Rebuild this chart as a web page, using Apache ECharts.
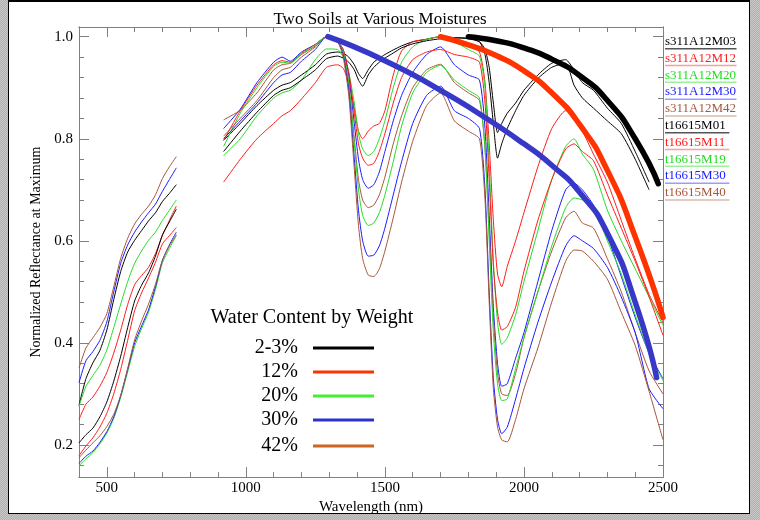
<!DOCTYPE html>
<html>
<head>
<meta charset="utf-8">
<script src="https://cdn.jsdelivr.net/npm/echarts@6/dist/echarts.min.js"></script>
<style>
html, body { margin: 0; padding: 0; }
body {
  width: 760px; height: 520px; position: relative; overflow: hidden;
  background-color: #bcbcbc;
  background-image: repeating-conic-gradient(#b0b0b0 0 25%, #c8c8c8 0 50%);
  background-size: 2px 2px;
}
.frame { position: absolute; left: 8px; top: 0; width: 740px; height: 511px; background: #fff; border: 1px solid #000; border-top-width: 2px; }
#chart { position: absolute; left: 0; top: 0; width: 760px; height: 520px; }
</style>
</head>
<body>
<div class="frame"></div>
<div id="chart"></div>
<script>
// wavelengths (nm)
const VIS_WL = [400, 425, 450, 475, 500, 525, 550, 575, 600, 625, 650, 675, 700, 725, 750]
const NIR_WL = [920, 980, 1040, 1100, 1130, 1160, 1200, 1250, 1290, 1330, 1350, 1370, 1390, 1405, 1420, 1440, 1460, 1480, 1500, 1530,
  1560, 1600, 1650, 1700, 1750, 1800, 1840, 1860, 1875, 1890, 1905, 1920, 1940, 1970, 2000, 2050, 2100, 2150, 2180, 2210,
  2250, 2300, 2350, 2400, 2450, 2500]

// visible segment
const s311A12M03_vis = [0.278, 0.33, 0.361, 0.385, 0.425, 0.485, 0.54, 0.578, 0.601, 0.62, 0.639, 0.655, 0.677, 0.693, 0.71]
const s311A12M12_vis = [0.25, 0.28, 0.294, 0.315, 0.342, 0.38, 0.425, 0.475, 0.514, 0.532, 0.548, 0.575, 0.61, 0.64, 0.668]
const s311A12M20_vis = [0.276, 0.315, 0.336, 0.356, 0.386, 0.43, 0.476, 0.52, 0.556, 0.58, 0.601, 0.617, 0.64, 0.66, 0.68]
const s311A12M30_vis = [0.322, 0.365, 0.383, 0.405, 0.441, 0.5, 0.556, 0.592, 0.617, 0.637, 0.655, 0.672, 0.697, 0.72, 0.743]
const s311A12M42_vis = [0.351, 0.39, 0.41, 0.43, 0.457, 0.51, 0.566, 0.605, 0.633, 0.652, 0.668, 0.69, 0.722, 0.745, 0.765]
const t16615M01_vis = [0.204, 0.22, 0.233, 0.255, 0.284, 0.325, 0.374, 0.43, 0.482, 0.513, 0.537, 0.57, 0.612, 0.637, 0.662]
const t16615M11_vis = [0.179, 0.198, 0.214, 0.235, 0.262, 0.3, 0.348, 0.405, 0.463, 0.498, 0.527, 0.558, 0.594, 0.61, 0.626]
const t16615M19_vis = [0.159, 0.173, 0.185, 0.202, 0.223, 0.252, 0.293, 0.343, 0.393, 0.428, 0.46, 0.505, 0.557, 0.585, 0.61]
const t16615M30_vis = [0.164, 0.178, 0.188, 0.205, 0.226, 0.255, 0.297, 0.348, 0.4, 0.433, 0.465, 0.51, 0.562, 0.592, 0.617]
const t16615M40_vis = [0.175, 0.19, 0.204, 0.218, 0.236, 0.26, 0.297, 0.35, 0.406, 0.443, 0.476, 0.515, 0.562, 0.59, 0.612]

// near / short-wave infrared segment
const s311A12M03_nir = [0.797, 0.83, 0.865, 0.895, 0.905, 0.91, 0.925, 0.945, 0.966, 0.97, 0.968, 0.96, 0.945, 0.928, 0.918, 0.935, 0.95, 0.958, 0.965, 0.974,
  0.982, 0.99, 0.995, 1.0, 0.998, 0.996, 0.99, 0.975, 0.94, 0.87, 0.812, 0.83, 0.85, 0.87, 0.895, 0.925, 0.948, 0.955, 0.935, 0.91,
  0.895, 0.86, 0.83, 0.775, 0.715, null]
const s311A12M12_nir = [0.715, 0.76, 0.8, 0.83, 0.845, 0.855, 0.878, 0.91, 0.94, 0.945, 0.938, 0.91, 0.86, 0.815, 0.8, 0.815, 0.825, 0.83, 0.855, 0.925,
  0.972, 0.99, 0.995, 1.0, 0.993, 0.985, 0.97, 0.91, 0.79, 0.64, 0.535, 0.51, 0.55, 0.6, 0.655, 0.745, 0.82, 0.855, 0.84, 0.815,
  0.77, 0.715, 0.64, 0.565, 0.495, 0.44]
const s311A12M20_nir = [0.767, 0.8, 0.845, 0.88, 0.89, 0.895, 0.915, 0.955, 0.976, 0.975, 0.96, 0.93, 0.87, 0.81, 0.78, 0.767, 0.775, 0.8, 0.835, 0.9,
  0.95, 0.98, 0.995, 1.0, 0.99, 0.975, 0.962, 0.9, 0.75, 0.56, 0.44, 0.397, 0.41, 0.455, 0.52, 0.62, 0.72, 0.785, 0.8, 0.77,
  0.74, 0.66, 0.6, 0.545, 0.49, 0.434]
const s311A12M30_nir = [0.82, 0.858, 0.91, 0.95, 0.96, 0.952, 0.97, 0.985, 1.0, 0.99, 0.975, 0.925, 0.83, 0.76, 0.72, 0.703, 0.71, 0.735, 0.775, 0.835,
  0.885, 0.93, 0.965, 0.98, 0.945, 0.925, 0.915, 0.82, 0.65, 0.47, 0.36, 0.315, 0.32, 0.37, 0.42, 0.52, 0.62, 0.7, 0.713, 0.7,
  0.67, 0.61, 0.53, 0.45, 0.38, 0.33]
const s311A12M42_nir = [0.837, 0.856, 0.89, 0.935, 0.945, 0.948, 0.965, 0.982, 1.0, 0.99, 0.97, 0.91, 0.8, 0.72, 0.68, 0.665, 0.67, 0.69, 0.725, 0.79,
  0.845, 0.9, 0.935, 0.946, 0.91, 0.89, 0.875, 0.78, 0.62, 0.45, 0.34, 0.3, 0.297, 0.34, 0.41, 0.5, 0.58, 0.645, 0.658, 0.635,
  0.625, 0.565, 0.5, 0.42, 0.345, 0.3]
const t16615M01_nir = [0.775, 0.815, 0.852, 0.885, 0.895, 0.9, 0.915, 0.935, 0.957, 0.962, 0.958, 0.95, 0.935, 0.915, 0.903, 0.925, 0.94, 0.95, 0.958, 0.968,
  0.978, 0.986, 0.992, 0.996, 0.998, 0.997, 0.99, 0.965, 0.91, 0.83, 0.762, 0.79, 0.82, 0.855, 0.885, 0.918, 0.94, 0.948, 0.905, 0.88,
  0.86, 0.835, 0.81, 0.76, 0.7, null]
const t16615M11_nir = [0.797, 0.855, 0.905, 0.945, 0.953, 0.95, 0.968, 0.985, 1.0, 0.99, 0.975, 0.93, 0.85, 0.79, 0.762, 0.748, 0.752, 0.775, 0.81, 0.87,
  0.92, 0.955, 0.97, 0.975, 0.965, 0.96, 0.95, 0.87, 0.72, 0.55, 0.46, 0.425, 0.432, 0.47, 0.54, 0.64, 0.72, 0.78, 0.79, 0.775,
  0.757, 0.69, 0.625, 0.56, 0.49, 0.415]
const t16615M19_nir = [0.785, 0.85, 0.9, 0.942, 0.95, 0.948, 0.966, 0.984, 1.0, 0.99, 0.97, 0.905, 0.79, 0.7, 0.65, 0.63, 0.635, 0.655, 0.69, 0.755,
  0.825, 0.89, 0.93, 0.944, 0.915, 0.895, 0.88, 0.78, 0.6, 0.42, 0.32, 0.287, 0.29, 0.35, 0.41, 0.5, 0.59, 0.665, 0.684, 0.68,
  0.665, 0.6, 0.535, 0.455, 0.38, 0.326]
const t16615M30_nir = [0.8, 0.835, 0.87, 0.91, 0.925, 0.93, 0.952, 0.975, 1.0, 0.99, 0.965, 0.895, 0.76, 0.66, 0.6, 0.57, 0.572, 0.59, 0.625, 0.69,
  0.755, 0.83, 0.885, 0.903, 0.855, 0.84, 0.82, 0.7, 0.5, 0.33, 0.25, 0.222, 0.235, 0.29, 0.35, 0.44, 0.52, 0.59, 0.61, 0.6,
  0.585, 0.548, 0.49, 0.42, 0.31, 0.271]
const t16615M40_nir = [0.805, 0.84, 0.875, 0.92, 0.935, 0.94, 0.96, 0.98, 1.0, 0.99, 0.96, 0.885, 0.74, 0.63, 0.565, 0.533, 0.53, 0.545, 0.58, 0.645,
  0.715, 0.795, 0.865, 0.89, 0.835, 0.815, 0.8, 0.68, 0.48, 0.31, 0.235, 0.21, 0.206, 0.25, 0.31, 0.39, 0.48, 0.56, 0.582, 0.58,
  0.56, 0.525, 0.46, 0.395, 0.305, 0.21]

// continuum lines
const hull03_wl = [1800, 1900, 2000, 2100, 2200, 2300, 2400, 2483]
const hull03 = [1.0, 0.992, 0.978, 0.956, 0.924, 0.875, 0.8, 0.712]
const hull12_wl = [1700, 1800, 1900, 2000, 2100, 2200, 2300, 2400, 2500]
const hull12 = [1.0, 0.984, 0.963, 0.933, 0.89, 0.828, 0.738, 0.608, 0.45]
const hull30_wl = [1295, 1500, 1700, 1850, 2000, 2100, 2200, 2300, 2400, 2477]
const hull30 = [1.0, 0.953, 0.895, 0.845, 0.79, 0.748, 0.695, 0.615, 0.48, 0.332]

// ticks
const xMajor = [500, 1000, 1500, 2000, 2500]
const xMinor = [600, 700, 800, 900, 1100, 1200, 1300, 1400, 1600, 1700, 1800, 1900, 2100, 2200, 2300, 2400]
const yMajor = [0.2, 0.4, 0.6, 0.8, 1.0]
const yMinor = [0.16, 0.24, 0.28, 0.32, 0.36, 0.44, 0.48, 0.52, 0.56, 0.64, 0.68, 0.72, 0.76, 0.84, 0.88, 0.92, 0.96]

const moistLabels = ['2-3%', '12%', '20%', '30%', '42%']

const FONT = "'Liberation Serif', 'Times New Roman', serif"
const AX = '#808080'
const COL = { k: '#000000', r: '#ff1a1a', g: '#22dd22', b: '#1a1aff', n: '#a8553a' }
const UNDER = { k: '#555555', r: '#ff9c9c', g: '#9cf09c', b: '#9c9cff', n: '#dcb9a8' }
const LEG_COL = ['#000000', '#ff3300', '#44ee33', '#2a33cc', '#cc6622']

const spectra = [
  ['s311A12M03', 'k', s311A12M03_vis, s311A12M03_nir],
  ['s311A12M12', 'r', s311A12M12_vis, s311A12M12_nir],
  ['s311A12M20', 'g', s311A12M20_vis, s311A12M20_nir],
  ['s311A12M30', 'b', s311A12M30_vis, s311A12M30_nir],
  ['s311A12M42', 'n', s311A12M42_vis, s311A12M42_nir],
  ['t16615M01', 'k', t16615M01_vis, t16615M01_nir],
  ['t16615M11', 'r', t16615M11_vis, t16615M11_nir],
  ['t16615M19', 'g', t16615M19_vis, t16615M19_nir],
  ['t16615M30', 'b', t16615M30_vis, t16615M30_nir],
  ['t16615M40', 'n', t16615M40_vis, t16615M40_nir]
]

function pairs (wl, vals) {
  return wl.map((w, i) => [w, vals[i] == null ? '-' : vals[i]])
}

function xAxis (pos, ticks, len, labels, name) {
  return {
    type: 'value', position: pos, min: 400, max: 2500,
    name: name || '', nameLocation: 'middle', nameGap: 14,
    nameTextStyle: { fontFamily: FONT, fontSize: 15, color: '#000' },
    axisLine: { show: true, onZero: false, lineStyle: { color: AX, width: 1 } },
    axisTick: { show: true, inside: true, length: len, customValues: ticks, lineStyle: { color: AX } },
    axisLabel: labels ? { show: true, customValues: ticks, margin: 3, fontFamily: FONT, fontSize: 15, color: '#000', formatter: v => String(v) } : { show: false },
    splitLine: { show: false }
  }
}

function yAxis (pos, ticks, len, labels, name) {
  return {
    type: 'value', position: pos, min: 0.137, max: 1.019,
    name: name || '', nameLocation: 'middle', nameGap: 36,
    nameTextStyle: { fontFamily: FONT, fontSize: 14, color: '#000' },
    axisLine: { show: true, onZero: false, lineStyle: { color: AX, width: 1 } },
    axisTick: { show: true, inside: true, length: len, customValues: ticks, lineStyle: { color: AX } },
    axisLabel: labels ? { show: true, customValues: ticks, margin: 6, fontFamily: FONT, fontSize: 15, color: '#000', formatter: v => v.toFixed(1) } : { show: false },
    splitLine: { show: false }
  }
}

const series = spectra.map(([name, c, vis, nir]) => ({
  name: name,
  type: 'line',
  data: pairs(VIS_WL, vis).concat([[835, '-']], pairs(NIR_WL, nir)),
  showSymbol: false,
  symbol: 'none',
  smooth: 0.2,
  connectNulls: false,
  lineStyle: { color: COL[c], width: 1 },
  z: 2
}))

const hulls = [[hull30_wl, hull30, '#3838c8'], [hull12_wl, hull12, '#ff3300'], [hull03_wl, hull03, '#000000']]
hulls.forEach(([wl, vals, color]) => {
  series.push({
    type: 'line',
    data: pairs(wl, vals),
    showSymbol: false,
    symbol: 'none',
    smooth: 0.6,
    lineStyle: { color: color, width: 5.5, cap: 'round' },
    z: 3
  })
})

const graphic = []
spectra.forEach(([name, c], i) => {
  const y = 42 + i * 16.8
  graphic.push({ type: 'rect', left: 665, top: y + 6, shape: { width: name.length * 7.15, height: 1.5 }, style: { fill: UNDER[c] }, z: 10 })
  graphic.push({ type: 'text', left: 665, top: y - 7, style: { text: name, fill: COL[c], font: '13px ' + FONT }, z: 11 })
})
graphic.push({ type: 'text', x: 312, y: 318, style: { text: 'Water Content by Weight', fill: '#000', font: '20px ' + FONT, align: 'center', verticalAlign: 'middle' }, z: 11 })
const legY = [348, 372, 396, 420, 446]
moistLabels.forEach((t, i) => {
  graphic.push({ type: 'text', x: 298, y: legY[i], style: { text: t, fill: '#000', font: '20px ' + FONT, align: 'right', verticalAlign: 'middle' }, z: 11 })
  graphic.push({ type: 'line', shape: { x1: 313, y1: legY[i], x2: 374, y2: legY[i] }, style: { stroke: LEG_COL[i], lineWidth: 3 }, z: 11 })
})

const chart = echarts.init(document.getElementById('chart'))
chart.setOption({
  animation: false,
  title: {
    text: 'Two Soils at Various Moistures',
    left: 'center', top: 6,
    textStyle: { fontFamily: FONT, fontSize: 17, fontWeight: 'normal', color: '#000' }
  },
  grid: { left: 79, right: 97, top: 27, bottom: 33 },
  xAxis: [
    xAxis('bottom', xMajor, 10, true, 'Wavelength (nm)'),
    xAxis('bottom', xMinor, 5, false),
    xAxis('top', xMajor, 10, false),
    xAxis('top', xMinor, 5, false)
  ],
  yAxis: [
    yAxis('left', yMajor, 10, true, 'Normalized Reflectance at Maximum'),
    yAxis('left', yMinor, 5, false),
    yAxis('right', yMajor, 10, false),
    yAxis('right', yMinor, 5, false)
  ],
  series: series,
  graphic: graphic
})
</script>
</body>
</html>
